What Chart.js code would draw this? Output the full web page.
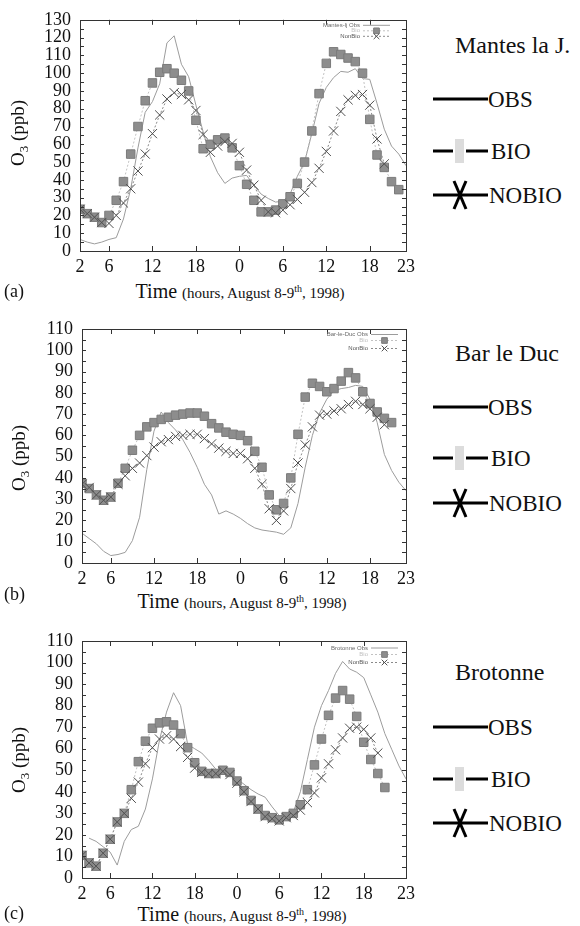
<!DOCTYPE html>
<html>
<head>
<meta charset="utf-8">
<script src="https://cdn.jsdelivr.net/npm/chart.js@4.4.1/dist/chart.umd.min.js"></script>
<style>
  body { margin: 0; background: #fff; width: 580px; height: 926px; position: relative; overflow: hidden;
         font-family: "Liberation Serif", "Times New Roman", serif; color: #111; }
  canvas { position: absolute; left: 0; }
  .ytitle { position: absolute; font-size: 19px; white-space: nowrap; line-height: 1;
            transform: translate(-50%, -50%) rotate(-90deg); }
  .ytitle sub { font-size: 13px; }
  .xtitle { position: absolute; font-size: 20px; white-space: nowrap; line-height: 1; transform: translateX(-50%); }
  .xtitle span { font-size: 15px; }
  .xtitle sup { font-size: 10px; }
  .tag { position: absolute; left: 4px; font-size: 18px; line-height: 1; }
  .site { position: absolute; left: 455px; font-size: 24px; line-height: 1; white-space: nowrap; }
  .key { position: absolute; left: 433px; font-size: 23px; line-height: 1; display: flex; align-items: center; }
  .key svg { display: block; }
</style>
</head>
<body>

<canvas id="chartA" width="420" height="278" style="top:0px"></canvas>
<canvas id="chartB" width="420" height="280" style="top:305px"></canvas>
<canvas id="chartC" width="420" height="282" style="top:620px"></canvas>

<div class="ytitle" style="left:19px;top:133px">O<sub>3</sub> (ppb)</div>
<div class="ytitle" style="left:20px;top:458px">O<sub>3</sub> (ppb)</div>
<div class="ytitle" style="left:20px;top:760px">O<sub>3</sub> (ppb)</div>

<div class="xtitle" style="left:240px;top:281px">Time <span>(hours, August 8-9<sup>th</sup>, 1998)</span></div>
<div class="xtitle" style="left:242px;top:591px">Time <span>(hours, August 8-9<sup>th</sup>, 1998)</span></div>
<div class="xtitle" style="left:242px;top:904px">Time <span>(hours, August 8-9<sup>th</sup>, 1998)</span></div>

<div class="tag" style="top:282px">(a)</div>
<div class="tag" style="top:585px">(b)</div>
<div class="tag" style="top:904px">(c)</div>

<div class="site" style="top:33px">Mantes la J.</div>
<div class="site" style="top:341px">Bar le Duc</div>
<div class="site" style="top:660px">Brotonne</div>

<script>
// O3 (ppb), one value per hour, hours 2..48 (day 1 = 2..23, day 2 = 24..48)
const hours = [2, 3, 4, 5, 6, 7, 8, 9, 10, 11, 12, 13, 14, 15, 16, 17, 18, 19, 20, 21, 22, 23,
               24, 25, 26, 27, 28, 29, 30, 31, 32, 33, 34, 35, 36, 37, 38, 39, 40, 41, 42, 43, 44, 45, 46, 47, 48];
const tickLabels = ['2', '6', '12', '18', '0', '6', '12', '18', '23'];
const ticksAB = [2, 6, 12, 18, 24, 30, 36, 42, 47];
const ticksC = [2, 6, 12, 18, 24, 30, 36, 42, 48];
const keyNames = ['OBS', 'BIO', 'NOBIO'];

// (a) Mantes la J.
const obsA = [6.5, 5, 4, 5, 6.5, 7.5, 18, 35, 58, 78, 84, 94, 117, 121, 105, 98, 82, 67, 53, 44, 38, 41,
              42, 42.5, 37, 32, 29.5, 27.5, 28, 32, 42, 50, 66, 83, 92, 97.5, 101, 100.5, 102.5, 97, 96.5, 83, 68.5, 59, 54.5, 48, null];
const bioA = [23.5, 21, 19, 16, 20, 28.5, 39, 54.5, 70, 84.5, 94.5, 100.5, 102.5, 100, 96, 90, 73.5, 57.5, 60, 62.5, 63.5, 58,
              48, 37.5, 28.5, 22, 22, 23, 26.5, 30.5, 38, 50, 67.5, 88.5, 105.5, 112, 110.5, 108.5, 106.5, 100, 74, 54, 47, 39, 34.5, null, null];
const nobioA = [23.5, 21, 19, 16, 15.5, 20, 27, 35, 45, 54.5, 66, 76.5, 85.5, 89, 88, 85, 79, 65.5, 55.5, 59, 61.5, 60.5,
                55.5, 45.5, 37, 28.5, 22, 21.5, 23, 26, 29, 33, 38.5, 46.5, 56, 67.5, 78.5, 85, 87.5, 88, 82, 63, 49, null, null, null, null];

// (b) Bar le Duc
const obsB = [14, 11.5, 9, 5.5, 3.5, 4, 5, 10.5, 21.5, 44, 62, 71, 66, 62.5, 58, 52, 45, 37, 32, 23, 24.5, 23,
              21, 18.5, 16.5, 15.5, 15, 14.5, 13.5, 16.5, 28, 45, 60, 70.5, 77, 81, 82, 82.5, 83.5, 83, 77, 66, 51, 43.5, 38, 34, null];
const bioB = [37.5, 35, 32, 29.5, 31, 37.5, 44.5, 53, 60, 64, 66, 67.5, 68.5, 69.5, 70, 70.5, 70.5, 69, 65.5, 63.5, 61.5, 60.5,
              60, 57.5, 52.5, 45, 32, 25, 28, 40, 60.5, 78, 84.5, 83, 80.5, 82, 85.5, 89.5, 87, 80.5, 75, 71, 68, 66, null, null, null];
const nobioB = [37, 35.5, 32, 29.5, 31, 37, 41, 44.5, 47, 50.5, 54.5, 57, 58, 59.5, 60, 60.5, 60.5, 58.5, 56, 54, 52.5, 51.5,
                51.5, 49, 44.5, 37, 25.5, 20, 24.5, 35, 47, 55.5, 64, 69.5, 70, 71.5, 72.5, 74.5, 76, 74.5, 72.5, 68.5, 65, null, null, null, null];

// (c) Brotonne
const obsC = [null, 18.5, 17, 14.5, 12, 6, 17, 22.5, 24, 32, 46, 64, 77, 86, 80, 62, 60, 58, 54.5, 50.5, 49.5, 48,
              46, 43.5, 41, 39, 37.5, 33, 29, 27.5, 30.5, 40, 55, 70, 80, 87, 95, 100.5, 97, 95.5, 93, 85, 77, 67, 59.5, 52, 46];
const bioC = [10.5, 7, 5.5, 11.5, 18, 26, 30, 41, 54, 63.5, 69.5, 72, 72.5, 71, 67, 60.5, 53.5, 49.5, 48.5, 48.5, 50, 49,
              45, 40.5, 36, 32, 29, 28, 27, 28.5, 30, 34, 41, 52.5, 64.5, 75.5, 83.5, 87, 83, 75, 63, 55, 48.5, 42, null, null, null];
const nobioC = [10.5, 7, 5.5, 11.5, 18, 26, 30, 37, 44.5, 53, 60.5, 64.5, 66, 64.5, 61, 56, 51, 49, 48.5, 48.5, 49.5, 48,
                44, 40, 35.5, 32, 28.5, 27.5, 26.5, 28, 29, 31.5, 35, 39.5, 46.5, 53, 59.5, 65, 69.5, 70, 69, 65, 58, null, null, null, null];

const tickFont = { family: 'Liberation Serif', size: 18 };

// gnuplot-style frame with inward ticks, plus the tiny in-plot key
const framePlugin = {
    id: 'frame',
    afterDatasetsDraw(chart, args, opts) {
        const { ctx, chartArea: a, scales: { x, y } } = chart;
        ctx.save();
        ctx.strokeStyle = '#333';
        ctx.lineWidth = 1;
        ctx.setLineDash([]);
        ctx.strokeRect(Math.round(a.left) + 0.5, Math.round(a.top) + 0.5,
                       Math.round(a.right - a.left), Math.round(a.bottom - a.top));
        ctx.beginPath();
        for (let v = y.min + 5; v < y.max; v += 5) {
            const py = Math.round(y.getPixelForValue(v)) + 0.5;
            ctx.moveTo(a.left, py); ctx.lineTo(a.left + 4, py);
            ctx.moveTo(a.right, py); ctx.lineTo(a.right - 4, py);
        }
        x.ticks.forEach(t => {
            if (t.value <= x.min || t.value >= x.max) return;
            const px = Math.round(x.getPixelForValue(t.value)) + 0.5;
            ctx.moveTo(px, a.bottom); ctx.lineTo(px, a.bottom - 5);
            ctx.moveTo(px, a.top); ctx.lineTo(px, a.top + 5);
        });
        ctx.stroke();

        // small key, top right inside the plot
        ctx.font = '6px "Liberation Sans", Arial, sans-serif';
        ctx.textAlign = 'right';
        ctx.textBaseline = 'middle';
        chart.data.datasets.forEach((ds, i) => {
            const yy = a.top + opts.rows[i];
            const x2 = a.right - opts.end, x1 = x2 - 27;
            ctx.fillStyle = opts.colors[i];
            ctx.fillText(ds.label, x1 - 3, yy);
            ctx.strokeStyle = ds.borderColor;
            ctx.setLineDash(ds.borderDash || []);
            ctx.beginPath(); ctx.moveTo(x1, yy); ctx.lineTo(x2, yy); ctx.stroke();
            ctx.setLineDash([]);
            if (ds.pointRadius) {
                ctx.fillStyle = ds.pointBackgroundColor || '#888';
                ctx.strokeStyle = ds.pointBorderColor;
                ctx.lineWidth = 1;
                Chart.helpers.drawPoint(ctx, { pointStyle: ds.pointStyle, radius: 4, borderWidth: 1 }, (x1 + x2) / 2, yy);
            }
        });
        ctx.restore();
    }
};

function series(vals) {
    return hours.map((h, i) => ({ x: h, y: vals[i] }));
}

function makePanel(id, o) {
    const el = document.getElementById(id);
    const H = el.height;
    return new Chart(el, {
        type: 'line',
        data: {
            datasets: [
                {
                    label: o.names[0], data: series(o.obs),
                    borderColor: '#9c9c9c', borderWidth: 1, pointRadius: 0, order: 3
                },
                {
                    label: o.names[1], data: series(o.bio),
                    borderColor: '#c2c2c2', borderWidth: 1, borderDash: [2, 2],
                    pointStyle: 'rect', pointRadius: 6,
                    pointBackgroundColor: '#8d8d8d', pointBorderColor: '#7b7b7b', pointBorderWidth: 1, order: 2
                },
                {
                    label: o.names[2], data: series(o.nobio),
                    borderColor: '#8a8a8a', borderWidth: 1, borderDash: [2, 2],
                    pointStyle: 'crossRot', pointRadius: 6.5,
                    pointBorderColor: '#505050', pointBorderWidth: 1, order: 1
                }
            ]
        },
        options: {
            responsive: false,
            animation: false,
            events: [],
            layout: { padding: { left: 0, right: el.width - o.right, top: o.top, bottom: 0 } },
            scales: {
                x: {
                    type: 'linear', min: 2, max: o.xmax,
                    grid: { display: false, drawTicks: false },
                    border: { display: false },
                    afterBuildTicks: s => { s.ticks = o.ticks.map(v => ({ value: v })); },
                    afterFit: s => { s.height = H - o.bottom; },
                    ticks: {
                        font: tickFont, color: '#111', padding: 5,
                        autoSkip: false, maxRotation: 0,
                        callback: (v, i) => tickLabels[i]
                    }
                },
                y: {
                    min: 0, max: o.ymax,
                    grid: { display: false, drawTicks: false },
                    border: { display: false },
                    afterFit: s => { s.width = o.left; },
                    ticks: { stepSize: 10, autoSkip: false, maxTicksLimit: 20, font: tickFont, color: '#111', padding: 9 }
                }
            },
            plugins: {
                legend: { display: false },
                tooltip: { enabled: false },
                frame: { rows: o.keyRows, end: o.keyEnd, colors: ['#6a6a6a', '#c0c0c0', '#555'] }
            }
        },
        plugins: [framePlugin]
    });
}

makePanel('chartA', {
    names: ['Mantes-lj Obs', 'Bio', 'NonBio'], obs: obsA, bio: bioA, nobio: nobioA,
    ymax: 130, xmax: 47, ticks: ticksAB, left: 80, right: 408, top: 15, bottom: 251,
    keyRows: [5.5, 11, 16.5], keyEnd: 16
});
makePanel('chartB', {
    names: ['Bar-le-Duc Obs', 'Bio', 'NonBio'], obs: obsB, bio: bioB, nobio: nobioB,
    ymax: 110, xmax: 47, ticks: ticksAB, left: 82, right: 409, top: 24, bottom: 258,
    keyRows: [5.5, 11.5, 19.5], keyEnd: 8
});
makePanel('chartC', {
    names: ['Brotonne Obs', 'Bio', 'NonBio'], obs: obsC, bio: bioC, nobio: nobioC,
    ymax: 110, xmax: 48, ticks: ticksC, left: 82, right: 409, top: 21, bottom: 258,
    keyRows: [7, 13.5, 21.5], keyEnd: 8
});

// right-hand keys (OBS / BIO / NOBIO) for each station
const keyTops = [[100, 152, 195], [408, 459, 503], [728, 780, 823]];
const keySymbols = [
    '<svg width="55" height="30"><line x1="0" y1="15" x2="55" y2="15" stroke="#000" stroke-width="3"/></svg>',
    '<svg width="57" height="30"><line x1="0" y1="15" x2="20" y2="15" stroke="#000" stroke-width="3"/>' +
        '<rect x="22" y="3" width="9" height="24" fill="#dcdcdc"/>' +
        '<line x1="33" y1="15" x2="55" y2="15" stroke="#000" stroke-width="3"/></svg>',
    '<svg width="55" height="32"><line x1="0" y1="16" x2="55" y2="16" stroke="#000" stroke-width="3"/>' +
        '<line x1="21" y1="2" x2="33" y2="30" stroke="#000" stroke-width="3"/>' +
        '<line x1="33" y1="2" x2="21" y2="30" stroke="#000" stroke-width="3"/></svg>'
];
keyTops.forEach(tops => {
    tops.forEach((yc, i) => {
        const d = document.createElement('div');
        d.className = 'key';
        d.style.top = (yc - 16) + 'px';
        d.innerHTML = keySymbols[i] + '<span style="margin-left:' + (i === 0 ? 0 : 1) + 'px">' + keyNames[i] + '</span>';
        document.body.appendChild(d);
    });
});
</script>
</body>
</html>
